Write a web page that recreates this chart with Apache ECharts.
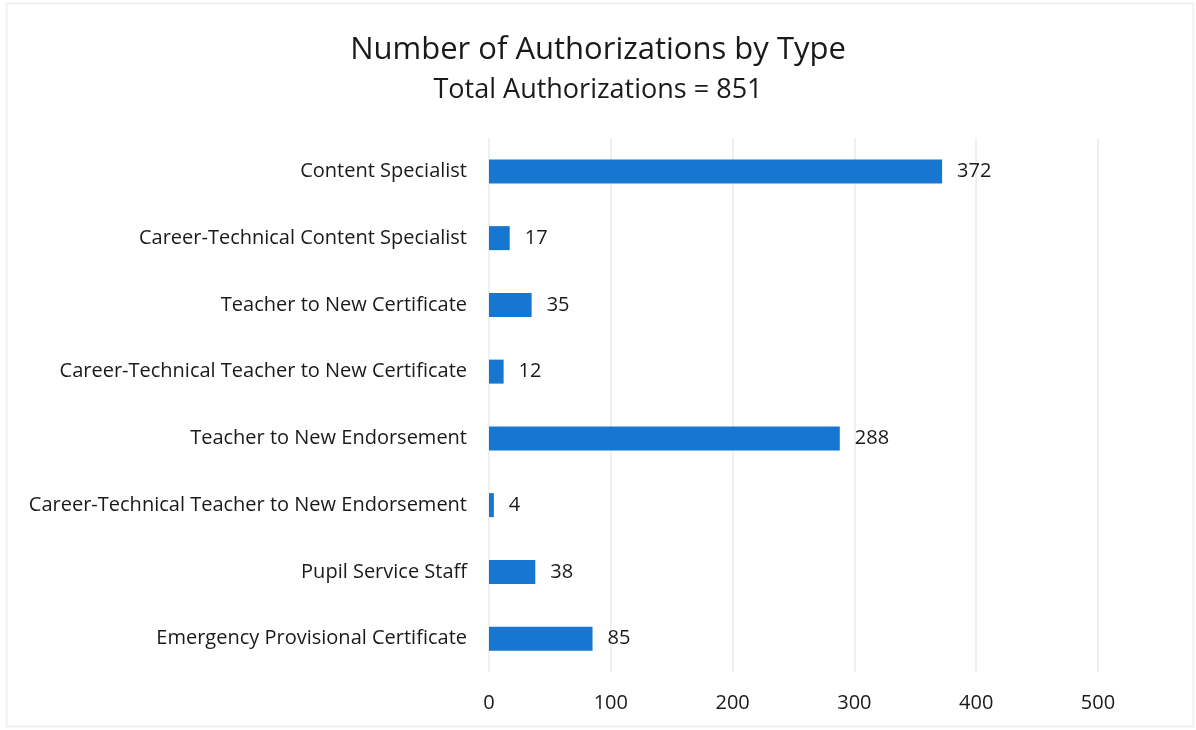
<!DOCTYPE html>
<html>
<head>
<meta charset="utf-8">
<script src="https://cdn.jsdelivr.net/npm/echarts@6/dist/echarts.min.js"></script>
<style>
  html, body { margin: 0; padding: 0; background: #fff; }
  #chart { width: 1196px; height: 730px; }
</style>
</head>
<body>
<div id="chart"></div>
<script>
// Authorization types, listed top to bottom
const categories = [
  'Content Specialist',
  'Career-Technical Content Specialist',
  'Teacher to New Certificate',
  'Career-Technical Teacher to New Certificate',
  'Teacher to New Endorsement',
  'Career-Technical Teacher to New Endorsement',
  'Pupil Service Staff',
  'Emergency Provisional Certificate'
];
const counts = [372, 17, 35, 12, 288, 4, 38, 85];
const xTicks = [0, 100, 200, 300, 400, 500];

const titleText = 'Number of Authorizations by Type';
const subtitleText = 'Total Authorizations = 851';

const FONT = '"Open Sans", "Noto Sans", sans-serif';
const chart = echarts.init(document.getElementById('chart'), null, { renderer: 'canvas' });

chart.setOption({
  backgroundColor: '#ffffff',
  animation: false,
  graphic: [{
    // thin frame around the chart area
    type: 'rect',
    shape: { x: 6.5, y: 3.5, width: 1187, height: 723 },
    style: { fill: 'none', stroke: '#f0f0f0', lineWidth: 2 },
    silent: true
  }],
  title: {
    text: titleText,
    subtext: subtitleText,
    left: 'center',
    top: 30,
    itemGap: 11,
    textStyle: { fontFamily: FONT, fontSize: 31, fontWeight: 'normal', color: '#1a1a1a' },
    subtextStyle: { fontFamily: FONT, fontSize: 27, color: '#1a1a1a' }
  },
  grid: { left: 489, right: 98, top: 138, bottom: 58, containLabel: false },
  xAxis: {
    type: 'value',
    min: xTicks[0],
    max: xTicks[xTicks.length - 1],
    interval: 100,
    axisLine: { show: false },
    axisTick: { show: false },
    splitLine: { show: true, lineStyle: { color: '#f0f0f0', width: 2 } },
    axisLabel: { margin: 21, fontFamily: FONT, fontSize: 20, color: '#1a1a1a' }
  },
  yAxis: {
    type: 'category',
    data: categories,
    inverse: true,
    axisLine: { show: false },
    axisTick: { show: false },
    axisLabel: { margin: 22, fontFamily: FONT, fontSize: 20, color: '#1a1a1a' }
  },
  series: [{
    type: 'bar',
    data: counts,
    barWidth: 24,
    itemStyle: { color: '#1776cf' },
    label: {
      show: true,
      position: 'right',
      distance: 15,
      fontFamily: FONT,
      fontSize: 20,
      color: '#1a1a1a'
    }
  }]
});
</script>
</body>
</html>
